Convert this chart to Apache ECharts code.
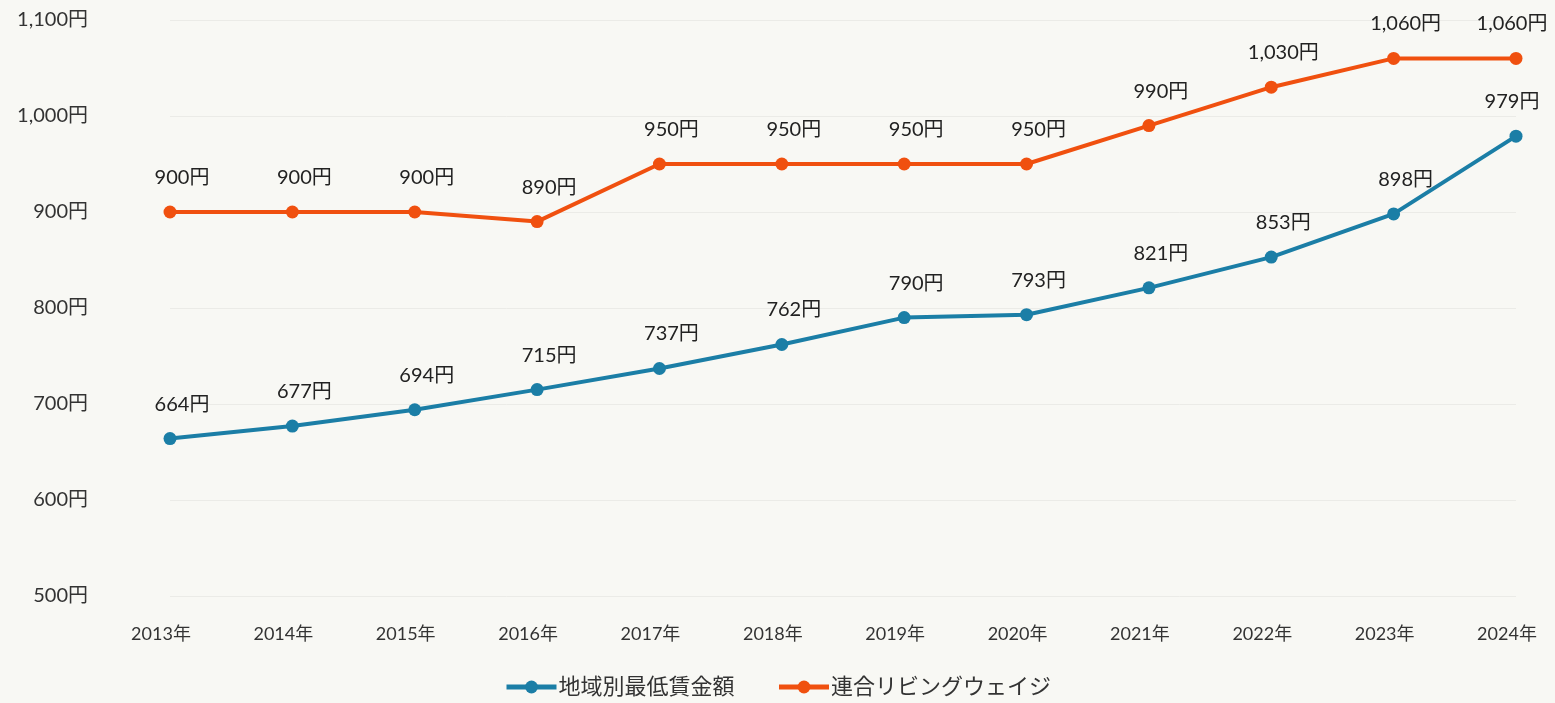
<!DOCTYPE html>
<html>
<head>
<meta charset="utf-8">
<script src="https://cdn.jsdelivr.net/npm/echarts@6/dist/echarts.min.js"></script>
<style>
  html, body { margin: 0; padding: 0; background: #f8f8f4; }
  #chart { width: 1555px; height: 703px; }
</style>
</head>
<body>
<div id="chart"></div>
<script>
// 年次
const years = ['2013年', '2014年', '2015年', '2016年', '2017年', '2018年', '2019年', '2020年', '2021年', '2022年', '2023年', '2024年']
// 地域別最低賃金額
const minWage = [664, 677, 694, 715, 737, 762, 790, 793, 821, 853, 898, 979]
// 連合リビングウェイジ
const livingWage = [900, 900, 900, 890, 950, 950, 950, 950, 990, 1030, 1060, 1060]

const font = 'Lato, "Noto Sans CJK JP", sans-serif'
const yen = v => v.toLocaleString('en-US') + '円'

const chart = echarts.init(document.getElementById('chart'))

function lineSeries(name, data, color) {
  const last = data.length - 1
  return {
    name: name,
    type: 'line',
    // 最後の点だけラベルを左へ寄せて右端で切れないようにする
    data: data.map((v, i) => i === last ? { value: v, label: { offset: [-4, 0] } } : v),
    symbol: 'circle',
    symbolSize: 13,
    lineStyle: { width: 4, color: color },
    itemStyle: { color: color },
    label: {
      show: true,
      position: 'top',
      distance: 18,
      offset: [12, 0],
      color: '#222',
      fontSize: 20,
      fontFamily: font,
      formatter: p => yen(p.value)
    },
    animation: false
  }
}

chart.setOption({
  backgroundColor: '#f8f8f4',
  textStyle: { fontFamily: font },
  grid: { left: 170, right: 39, top: 20, bottom: 107 },
  xAxis: {
    type: 'category',
    data: years,
    boundaryGap: false,
    axisLine: { show: false },
    axisTick: { show: false },
    axisLabel: { color: '#333', fontSize: 18, margin: 29, fontFamily: font, padding: [0, 18, 0, 0] }
  },
  yAxis: {
    type: 'value',
    min: 500,
    max: 1100,
    interval: 100,
    axisLine: { show: false },
    axisTick: { show: false },
    splitLine: { lineStyle: { color: '#ebebe7', width: 1 } },
    axisLabel: {
      color: '#333',
      fontSize: 20,
      margin: 82,
      fontFamily: font,
      formatter: v => yen(v)
    }
  },
  legend: {
    bottom: 0,
    left: 'center',
    itemWidth: 50,
    itemHeight: 16,
    itemGap: 42,
    lineStyle: { width: 5 },
    textStyle: { color: '#333', fontSize: 22, fontFamily: font, padding: [0, 0, 0, -3] },
    data: ['地域別最低賃金額', '連合リビングウェイジ']
  },
  series: [
    lineSeries('地域別最低賃金額', minWage, '#1b7ea6'),
    lineSeries('連合リビングウェイジ', livingWage, '#f0500f')
  ]
})
</script>
</body>
</html>
